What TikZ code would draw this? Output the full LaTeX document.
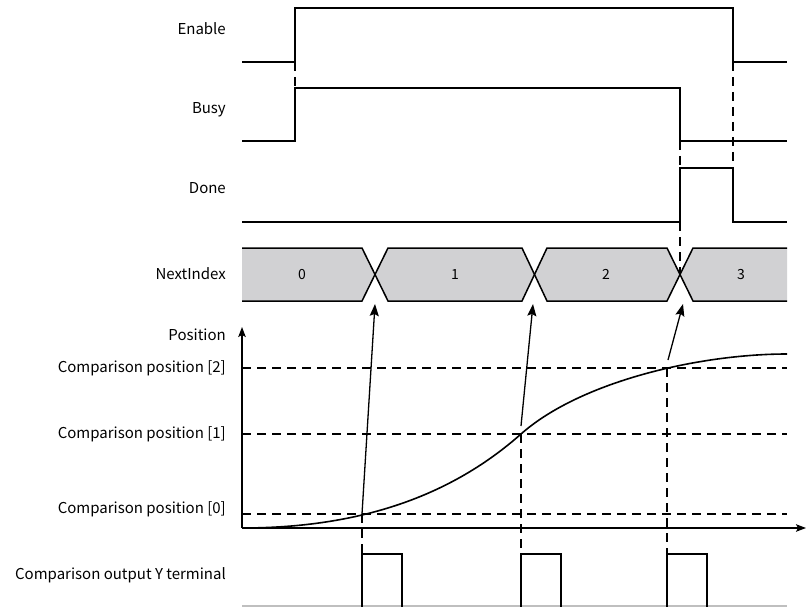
\documentclass[tikz,border=0pt]{standalone}
\usepackage{fontspec}
\setmainfont{Noto Sans CJK SC}
\usetikzlibrary{arrows.meta}
\definecolor{busfill}{HTML}{D1D1D3}
\tikzset{
  sig/.style={line width=1.5pt, line join=miter},
  guide/.style={line width=1.3pt, dash pattern=on 9pt off 6pt},
  lbl/.style={anchor=east, inner sep=0pt, font=\fontsize{15}{17}\selectfont},
  buslbl/.style={inner sep=0pt, font=\fontsize{14}{16}\selectfont},
  ptr/.style={line width=1.3pt, -{Stealth[length=12pt,width=9pt,inset=2pt]}},
  axis/.style={line width=1.3pt, -{Stealth[length=10pt,width=7.5pt,inset=2pt]}}
}
\begin{document}
\begin{tikzpicture}[x=1pt,y=-1pt]
\useasboundingbox (0,0) rectangle (806,607);
% labels
\node[lbl] (lEnable) at (226,29) {Enable};
\node[lbl] (lBusy) at (226,110) {Busy};
\node[lbl] (lDone) at (226,188) {Done};
\node[lbl] (lNext) at (226,274) {NextIndex};
\node[lbl] (lPos) at (226,335) {Position};
\node[lbl] (lC2) at (226,368) {Comparison position [2]};
\node[lbl] (lC1) at (226,434) {Comparison position [1]};
\node[lbl] (lC0) at (226,509) {Comparison position [0]};
\node[lbl] (lY) at (226,575) {Comparison output Y terminal};
% Enable
\draw[sig] (242,62) -- (295,62) -- (295,8) -- (733,8) -- (733,62) -- (787,62);
% Busy
\draw[sig] (242,141) -- (295,141) -- (295,88) -- (680,88) -- (680,141) -- (787,141);
% Done
\draw[sig] (242,222) -- (680,222) -- (680,168) -- (733,168) -- (733,222) -- (787,222);
% timing guides
\draw[guide] (295,62) -- (295,88);
\draw[guide] (733,62) -- (733,168);
\draw[guide] (680,141) -- (680,168);
\draw[guide] (680,222) -- (680,274.5);
% NextIndex bus
\fill[busfill] (242,248) -- (362,248) -- (375,274.5) -- (362,301) -- (242,301) -- cycle;
\fill[busfill] (388,248) -- (522,248) -- (534,274.5) -- (522,301) -- (388,301) -- (375,274.5) -- cycle;
\fill[busfill] (547,248) -- (667,248) -- (680,274.5) -- (667,301) -- (547,301) -- (534,274.5) -- cycle;
\fill[busfill] (693,248) -- (787,248) -- (787,301) -- (693,301) -- (680,274.5) -- cycle;
\draw[sig] (242,248) -- (362,248) -- (388,301) -- (522,301) -- (547,248) -- (667,248) -- (693,301) -- (787,301);
\draw[sig] (242,301) -- (362,301) -- (388,248) -- (522,248) -- (547,301) -- (667,301) -- (693,248) -- (787,248);
\node[buslbl] (b0) at (302,274.5) {0};
\node[buslbl] (b1) at (455,274.5) {1};
\node[buslbl] (b2) at (606,274.5) {2};
\node[buslbl] (b3) at (741,274.5) {3};
\coordinate (x1) at (375,304);
\coordinate (x2) at (533,304);
\coordinate (x3) at (683,304);
% axes
\coordinate (org) at (242,528);
\draw[axis] (org) -- (242,327);
\draw[axis] (org) -- (806,528);
% comparison levels
\draw[guide] (242,368) -- (787,368);
\draw[guide] (242,434) -- (787,434);
\draw[guide] (242,514) -- (787,514);
% position curve
\draw[line width=1.6pt] (org) .. controls (360,528) and (451,496) .. (521,434)
  .. controls (581,381) and (700,354) .. (787,354);
% vertical guides
\draw[guide] (362,514) -- (362,554);
\draw[guide] (521,434) -- (521,554);
\draw[guide] (667,368) -- (667,554);
% pointer arrows
\coordinate (a1) at (362,514);
\coordinate (a2) at (521,426);
\coordinate (a3) at (668,360);
\draw[ptr] (a1) -- (x1);
\draw[ptr] (a2) -- (x2);
\draw[ptr] (a3) -- (x3);
% Y terminal
\draw[line width=1.4pt, black!25] (242,606) -- (787,606);
\draw[sig] (362,607) -- (362,554) -- (402,554) -- (402,607);
\draw[sig] (521,607) -- (521,554) -- (561,554) -- (561,607);
\draw[sig] (667,607) -- (667,554) -- (707,554) -- (707,607);
\end{tikzpicture}
\end{document}
